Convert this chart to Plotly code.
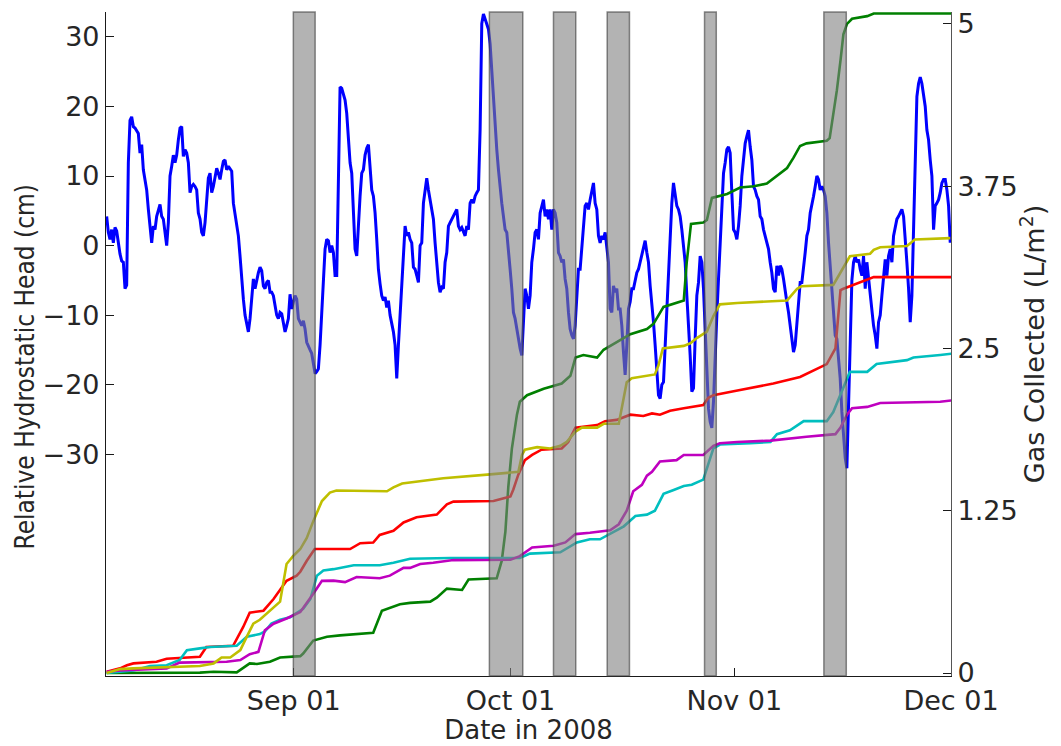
import pandas as pd
import plotly.graph_objects as go

# ---------------------------------------------------------------------------
# Relative hydrostatic head (cm), logger samples at a fixed spacing
# ---------------------------------------------------------------------------
HEAD_T0 = "2008-08-06 02:13"
HEAD_DT_MIN = 332.4  # minutes between samples

head_cm = [
    4.2, 1.9, 0.9, 2.3, 0.4, 2.6, 2.1, 0.2, -1.2, -2.2, -2.4, -6.2, -5.7, 11.9, 18.0, 18.5,
    17.1, 16.9, 16.4, 16.1, 13.3, 14.5, 10.9, 9.7, 8.0, 5.2, 2.3, 0.4, 2.8, 2.3, 4.2, 5.0,
    5.9, 4.2, 3.8, 1.9, 0.0, 3.3, 10.0, 11.4, 13.0, 11.9, 13.0, 15.2, 16.9, 17.1, 12.8, 13.8,
    13.3, 11.9, 7.6, 8.5, 8.8, 8.5, 8.0, 4.7, 3.8, 1.9, 1.4, 3.3, 7.1, 9.7, 10.4, 7.6,
    8.5, 10.0, 11.1, 10.4, 9.5, 10.9, 12.1, 12.3, 10.9, 11.4, 11.1, 10.7, 6.1, 4.7, 2.8, 1.4,
    -1.5, -5.3, -7.7, -10.0, -11.0, -12.4, -10.5, -7.2, -4.8, -6.2, -4.8, -3.9, -3.1, -3.6, -5.8, -6.2,
    -5.3, -5.0, -6.7, -6.7, -7.2, -8.6, -10.0, -10.5, -9.6, -9.8, -11.0, -12.4, -11.5, -10.5, -7.0, -9.1,
    -8.1, -7.2, -7.7, -10.5, -11.0, -11.5, -10.8, -12.0, -13.9, -14.6, -15.0, -15.5, -17.2, -18.4, -18.1, -17.7,
    -14.3, -10.0, -4.3, -0.5, 0.9, 0.7, -1.0, 0.0, -1.0, -4.3, -4.3, 11.9, 22.8, 22.6, 21.6, 20.9,
    19.0, 16.1, 11.9, 10.4, 5.2, -0.5, -1.5, 3.3, 7.1, 10.4, 10.9, 13.0, 14.0, 14.5, 10.4, 8.0,
    7.1, 4.7, 0.9, -3.4, -5.5, -7.2, -7.9, -7.4, -8.9, -7.9, -10.0, -11.0, -12.4, -14.3, -19.1, -14.3,
    -10.0, -4.8, -0.5, 2.8, 1.4, 1.9, 0.9, 0.4, -3.1, -3.4, -4.3, -5.3, 0.0, 0.4, 6.1, 7.6,
    9.7, 8.0, 6.6, 5.7, 3.8, 0.4, -2.9, -5.3, -6.7, -6.0, -6.2, -2.4, -1.0, 2.8, 3.3, 3.8,
    4.2, 4.7, 5.2, 2.8, 2.3, 2.6, 1.9, 1.4, 2.8, 2.3, 6.1, 6.6, 6.1, 7.1, 7.6, 8.0,
    16.6, 31.9, 33.3, 32.6, 31.9, 31.1, 29.0, 25.2, 20.9, 16.6, 13.8, 10.9, 8.0, 6.1, 4.2, 2.3,
    1.9, -1.5, -3.4, -6.2, -9.6, -10.5, -12.0, -12.9,
    -14.8, -15.8, -11.0, -6.2, -7.2, -9.1, -7.2, -2.4, -0.5, 1.9, 2.3, 0.9, 4.7, 5.7, 6.6, 4.2,
    5.2, 3.8, 5.2, 2.3, 5.2, 4.7, 3.3, -1.0, -1.5, -2.4, -2.0, -4.8, -6.2, -9.6, -12.0, -12.9,
    -13.4, -11.5, -7.2, -3.4, -3.4, -0.5, 2.3, 5.7, 6.1, 5.2, 6.6, 8.0, 9.0, 6.1, 5.2, 1.4,
    0.4, 1.4, 0.9, 1.9, 0.0, -2.4, -9.1, -9.6, -5.8, -6.7, -6.2, -9.1, -9.1, -11.5, -15.3, -18.6,
    -14.3, -9.1, -8.1, -6.2, -6.2, -4.8, -3.9, -3.4, -2.4, -1.0, 0.0, 0.7, -1.0, -2.4, -5.8, -8.1,
    -11.0, -14.3, -17.7, -21.5, -22.0, -20.0, -19.6, -14.3, -8.1, -3.4, 0.4, 6.1, 9.0, 7.1, 5.7, 5.2,
    4.2, 2.3, -0.5, -2.4, -7.2, -11.0, -15.8, -21.0, -20.5, -13.4, -7.2, -5.3, -1.5, -2.4, -6.2, -12.0,
    -16.7, -23.4, -25.3, -26.2, -22.4, -14.8, -10.0, -4.8, 0.9, 6.1, 10.4, 11.9, 13.8, 14.2, 13.3, 7.6,
    2.3, 1.9, 0.9, 2.8, 5.7, 10.0, 12.8, 14.7, 15.7, 16.6, 14.2, 12.3, 8.5, 8.0, 7.1, 6.6,
    4.2, 3.8, 2.3, 1.4, 0.4, -0.5, -2.4, -3.9, -6.2, -6.7, -2.9, -4.3, -2.9, -3.4, -4.8, -6.7,
    -8.1, -9.6, -11.5, -13.4, -15.3, -14.3, -11.5, -8.1, -5.3, -5.3, -3.4, -1.0, 1.4, 2.3, 4.7, 5.7,
    7.1, 8.5, 10.0, 9.5, 8.0, 8.5, 8.0, 7.1, 4.7, 0.4, -2.9, -6.2, -9.6, -12.9, -13.4, -15.8,
    -19.1, -23.9, -26.7, -30.5, -32.0, -22.0, -12.0, -5.0, -2.4, -1.5, -2.4, -2.0, -3.4, -4.3, -1.5, -6.2,
    -2.4, -4.8, -7.2, -10.0, -11.5, -12.9, -14.8, -11.0, -10.0, -7.2, -3.9, -2.0, -4.3, -1.5, -0.5, -2.4,
    1.4, 2.8, 3.8, 4.2, 4.7, 5.2, 4.2, 1.4, -2.4, -6.2, -11.0, -7.2, 2.3, 14.2, 21.4, 23.3,
    24.2, 23.3, 21.4, 20.0, 16.6, 15.2, 12.3, 10.0, 2.3, 5.7, 6.1, 6.6, 7.6, 9.0, 9.5, 9.5,
    8.0, 5.7, 0.4,
]

# ---------------------------------------------------------------------------
# Cumulative gas collected (L/m^2); times in days since 2008-08-06
# ---------------------------------------------------------------------------
GAS_ORIGIN = "2008-08-06"

green_day = [0.09, 12.1, 13.0, 14.9, 18.1, 19.9, 20.9, 22.7, 24.1, 26.9, 27.3, 28.7, 30.6, 32.4,
             37.0, 38.2, 40.7, 42.1, 44.9, 45.8, 47.2, 49.3, 50.2, 54.1, 54.8, 55.3, 55.7, 56.2,
             56.9, 57.3, 58.3, 60.6, 63.1, 64.3, 65.0, 66.1, 68.0, 68.9, 71.7, 72.6, 74.9, 75.8,
             77.2, 80.0, 80.4, 81.0, 82.7, 83.2, 83.9, 86.0, 87.8, 89.7, 91.5, 92.9, 94.3, 95.2,
             96.1, 97.0, 99.8, 100.2, 100.7, 101.2, 101.7, 102.1, 102.6, 103.3, 105.4, 106.3,
             112.7, 117.1]
green_gas = [0.0, 0.0, 0.003, 0.01, 0.005, 0.074, 0.07, 0.087, 0.12, 0.13, 0.15, 0.25, 0.28, 0.29,
             0.31, 0.48, 0.53, 0.54, 0.55, 0.58, 0.65, 0.64, 0.72, 0.73, 0.865, 1.09, 1.43, 1.73,
             1.99, 2.09, 2.14, 2.19, 2.23, 2.29, 2.43, 2.45, 2.43, 2.49, 2.58, 2.61, 2.65, 2.69,
             2.82, 2.87, 3.16, 3.46, 3.47, 3.49, 3.66, 3.69, 3.74, 3.75, 3.77, 3.83, 3.89, 3.97,
             4.06, 4.08, 4.10, 4.12, 4.29, 4.49, 4.72, 4.92, 5.00, 5.04, 5.06, 5.08,
             5.08, 5.08]

yellow_day = [0.09, 1.94, 3.79, 8.4, 10.2, 13.0, 14.9, 16.0, 17.2, 18.6, 19.5, 20.4, 21.3, 22.7,
              24.1, 25.0, 25.9, 26.9, 27.8, 28.7, 29.9, 31.0, 31.9, 38.9, 39.8, 41.0, 43.5, 46.7,
              53.2, 57.1, 57.6, 58.0, 59.7, 61.5, 62.9, 63.8, 65.0, 65.9, 68.0, 68.9, 71.0, 71.4,
              72.1, 72.8, 76.0, 76.5, 77.1, 80.0, 80.9, 81.8, 83.2, 84.1, 85.0, 87.4, 94.3, 95.7,
              96.3, 100.7, 101.2, 102.1, 103.0, 105.8, 106.3, 107.2, 110.9, 112.0, 116.9]
yellow_gas = [0.0, 0.03, 0.036, 0.043, 0.05, 0.054, 0.074, 0.12, 0.12, 0.176, 0.28, 0.38, 0.41, 0.48,
              0.55, 0.84, 0.90, 0.955, 1.04, 1.17, 1.325, 1.39, 1.406, 1.40, 1.43, 1.46, 1.48, 1.50,
              1.53, 1.55, 1.68, 1.72, 1.74, 1.73, 1.75, 1.78, 1.86, 1.89, 1.89, 1.92, 1.92, 2.04,
              2.24, 2.27, 2.30, 2.37, 2.50, 2.52, 2.54, 2.58, 2.63, 2.75, 2.84, 2.85, 2.87, 2.96,
              2.98, 2.99, 3.04, 3.12, 3.21, 3.23, 3.26, 3.28, 3.29, 3.34, 3.35]

red_day = [0.09, 1.94, 2.9, 3.8, 7.0, 8.4, 13.0, 13.9, 17.6, 19.0, 19.9, 21.8, 23.2, 25.0,
           26.4, 26.9, 27.8, 28.9, 33.8, 35.2, 37.0, 37.9, 39.8, 41.2, 43.0, 45.8, 47.2, 48.1,
           53.65, 56.0, 56.4, 57.1, 58.0, 59.0, 60.3, 63.1, 64.0, 65.0, 68.0, 69.1, 70.7, 72.6,
           74.4, 75.6, 76.7, 78.1, 80.0, 82.7, 83.4, 84.1, 86.9, 92.4, 96.1, 98.0, 99.8, 101.0,
           101.7, 102.1, 104.0, 105.6, 106.3, 117.1]
red_gas = [0.01, 0.036, 0.06, 0.074, 0.087, 0.11, 0.125, 0.20, 0.21, 0.355, 0.465, 0.48, 0.57, 0.71,
           0.75, 0.78, 0.865, 0.955, 0.955, 1.00, 1.005, 1.064, 1.095, 1.16, 1.20, 1.22, 1.30, 1.32,
           1.325, 1.36, 1.414, 1.53, 1.64, 1.68, 1.72, 1.73, 1.78, 1.89, 1.91, 1.94, 1.95, 1.99,
           1.98, 2.00, 1.99, 2.02, 2.04, 2.065, 2.12, 2.14, 2.17, 2.23, 2.28, 2.33, 2.38, 2.50,
           2.95, 2.96, 3.00, 3.03, 3.05, 3.05]

cyan_day = [0.09, 3.8, 6.1, 8.4, 10.2, 11.2, 13.0, 14.4, 18.1, 19.5, 21.3, 22.0, 22.9, 24.1,
            25.5, 27.3, 28.3, 29.2, 30.1, 31.5, 34.3, 37.9, 39.8, 42.1, 47.65, 57.3, 58.7, 62.9,
            65.2, 67.0, 68.4, 69.8, 71.7, 73.3, 74.9, 76.0, 77.2, 78.6, 80.0, 81.1, 82.7, 84.1,
            85.0, 89.2, 92.0, 92.9, 94.7, 96.6, 99.8, 100.7, 101.7, 103.0, 105.4, 106.7, 110.9,
            111.8, 115.5, 117.1]
cyan_gas = [0.0, 0.02, 0.054, 0.06, 0.10, 0.176, 0.19, 0.20, 0.21, 0.28, 0.30, 0.32, 0.38, 0.41,
            0.43, 0.495, 0.57, 0.75, 0.79, 0.80, 0.83, 0.83, 0.85, 0.88, 0.886, 0.886, 0.92, 0.93,
            1.006, 1.03, 1.03, 1.07, 1.13, 1.21, 1.22, 1.25, 1.38, 1.41, 1.44, 1.45, 1.49, 1.73,
            1.76, 1.77, 1.78, 1.84, 1.87, 1.94, 1.94, 2.01, 2.14, 2.32, 2.32, 2.38, 2.41,
            2.43, 2.45, 2.46]

magenta_day = [0.09, 1.94, 8.4, 10.2, 16.7, 18.6, 19.9, 21.1, 22.0, 23.2, 25.0, 26.9, 28.7, 29.9,
               31.5, 33.1, 34.7, 37.9, 39.3, 41.2, 42.1, 43.5, 45.3, 48.1, 56.0, 57.3, 59.0, 62.0,
               63.6, 65.0, 67.0, 69.8, 71.0, 72.1, 73.0, 74.2, 74.9, 75.6, 76.7, 79.0, 80.0, 82.7,
               84.1, 85.0, 87.4, 92.0, 97.0, 101.0, 101.7, 102.6, 103.3, 105.4, 107.2, 110.9,
               115.5, 117.1]
magenta_gas = [0.01, 0.02, 0.036, 0.08, 0.087, 0.10, 0.145, 0.163, 0.33, 0.38, 0.42, 0.47, 0.61, 0.71,
               0.712, 0.70, 0.74, 0.73, 0.75, 0.81, 0.81, 0.84, 0.85, 0.87, 0.873, 0.90, 0.967, 0.98,
               1.006, 1.07, 1.08, 1.10, 1.146, 1.25, 1.40, 1.45, 1.52, 1.55, 1.63, 1.64, 1.68, 1.68,
               1.75, 1.77, 1.78, 1.79, 1.82, 1.84, 1.89, 1.99, 2.04, 2.05, 2.08, 2.085,
               2.09, 2.10]

# ---------------------------------------------------------------------------
# Shaded event periods
# ---------------------------------------------------------------------------
event_start = ["2008-08-31 22:30", "2008-09-28 02:00", "2008-10-06 23:00",
               "2008-10-14 09:30", "2008-10-27 21:00", "2008-11-13 09:30"]
event_end = ["2008-09-03 23:00", "2008-10-02 17:00", "2008-10-10 01:00",
             "2008-10-17 11:30", "2008-10-29 12:00", "2008-11-16 12:00"]

# Axis ticks
x_tick_dates = ["2008-09-01", "2008-10-01", "2008-11-01", "2008-12-01"]
x_tick_text = ["Sep 01", "Oct 01", "Nov 01", "Dec 01"]
head_ticks = [-30, -20, -10, 0, 10, 20, 30]
gas_ticks = [0, 1.25, 2.5, 3.75, 5]
gas_tick_text = ["0", "1.25", "2.5", "3.75", "5"]

# ---------------------------------------------------------------------------
FONT = "DejaVu Sans"
LABEL_FONT = "DejaVu Sans Condensed, DejaVu Sans"
INK = "#262626"
TICK_SIZE = 27

head_time = pd.Timestamp(HEAD_T0) + pd.to_timedelta(
    [i * HEAD_DT_MIN for i in range(len(head_cm))], unit="min")


def gas_time(days):
    return pd.Timestamp(GAS_ORIGIN) + pd.to_timedelta(days, unit="D")


fig = go.Figure()

fig.add_trace(go.Scatter(
    x=head_time, y=head_cm, mode="lines", yaxis="y",
    line=dict(color="#0000ff", width=3), hoverinfo="skip"))

gas_series = [
    (green_day, green_gas, "#008000"),
    (red_day, red_gas, "#ff0000"),
    (cyan_day, cyan_gas, "#00bfbf"),
    (magenta_day, magenta_gas, "#bf00bf"),
    (yellow_day, yellow_gas, "#bfbf00"),
]
for days, gas, colour in gas_series:
    fig.add_trace(go.Scatter(
        x=gas_time(days), y=gas, mode="lines", yaxis="y2",
        line=dict(color=colour, width=2.6), hoverinfo="skip"))

for s, e in zip(event_start, event_end):
    fig.add_shape(
        type="rect", xref="x", yref="paper", x0=s, x1=e, y0=0, y1=1,
        fillcolor="rgba(128,128,128,0.6)",
        line=dict(color="rgba(60,60,60,0.6)", width=1.5),
        layer="above")

# Left-hand axis label, set a little below the axis midpoint
fig.add_annotation(
    text="Relative Hydrostatic Head (cm)", textangle=-90,
    xref="paper", yref="paper", x=-0.096, y=0.466,
    xanchor="center", yanchor="middle", showarrow=False,
    font=dict(family=LABEL_FONT, size=26, color=INK))

fig.update_layout(
    width=1061, height=746,
    margin=dict(l=106, r=110, t=8, b=70),
    paper_bgcolor="white", plot_bgcolor="white",
    showlegend=False,
    font=dict(family=FONT, size=TICK_SIZE, color=INK),
    xaxis=dict(
        type="date", range=["2008-08-06", "2008-12-01"],
        tickmode="array", tickvals=x_tick_dates, ticktext=x_tick_text,
        ticks="inside", ticklen=8, tickwidth=1, tickcolor="#1a1a1a",
        showline=True, linecolor="#1a1a1a", linewidth=1.2,
        showgrid=False, zeroline=False,
        tickfont=dict(size=TICK_SIZE, color=INK),
        title=dict(text="Date in 2008", font=dict(size=26, color=INK), standoff=0),
    ),
    yaxis=dict(
        range=[-61.86, 33.57],
        tickmode="array", tickvals=head_ticks,
        ticks="inside", ticklen=8, tickwidth=1, tickcolor="#1a1a1a",
        showline=True, linecolor="#1a1a1a", linewidth=1.2,
        showgrid=False, zeroline=False,
        tickfont=dict(size=TICK_SIZE, color=INK),
    ),
    yaxis2=dict(
        overlaying="y", side="right",
        range=[-0.023, 5.092],
        tickmode="array", tickvals=gas_ticks, ticktext=gas_tick_text,
        ticks="inside", ticklen=8, tickwidth=1, tickcolor="#1a1a1a",
        showline=True, linecolor="#555555", linewidth=1.2,
        showgrid=False, zeroline=False,
        tickfont=dict(size=TICK_SIZE, color=INK),
        title=dict(text="Gas Collected (L/m<sup>2</sup>)",
                   font=dict(size=27, color=INK), standoff=8),
    ),
)

fig.write_html("out.html")
